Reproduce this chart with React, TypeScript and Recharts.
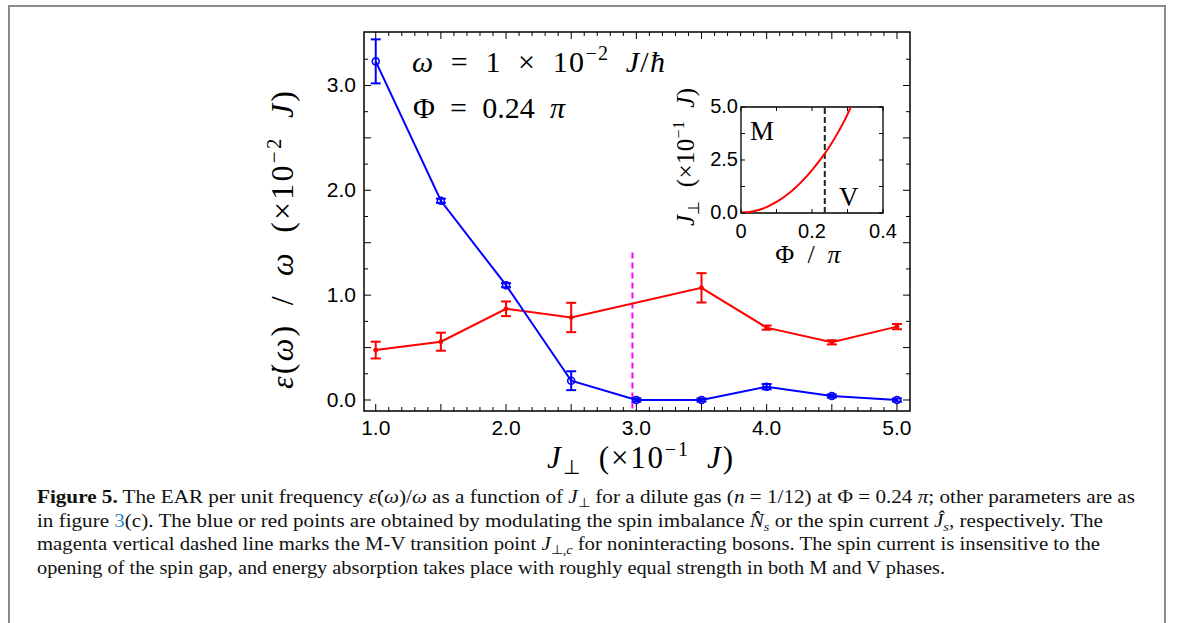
import React from 'react';
import {
  ComposedChart,
  LineChart,
  Line,
  XAxis,
  YAxis,
  ErrorBar,
  ReferenceLine,
  ReferenceArea,
} from 'recharts';

// J_perp values (x 10^-1 J) where the absorption rate was sampled
const imbalanceJ = [1.0, 1.5, 2.0, 2.5, 3.0, 3.5, 4.0, 4.5, 5.0];
const imbalanceRate = [3.23, 1.9, 1.095, 0.184, 0.0, 0.0, 0.127, 0.038, 0.0];
const imbalanceErr = [0.21, 0.02, 0.02, 0.09, 0.015, 0.015, 0.025, 0.015, 0.015];

const currentJ = [1.0, 1.5, 2.0, 2.5, 3.5, 4.0, 4.5, 5.0];
const currentRate = [0.476, 0.556, 0.87, 0.787, 1.07, 0.69, 0.55, 0.7];
const currentErr = [0.08, 0.086, 0.07, 0.14, 0.14, 0.02, 0.02, 0.025];

// M-V transition for noninteracting bosons
const transitionJ = 2.97;
const transitionSpan = [-0.08, 1.41];

// inset: phase boundary J_perp,c vs flux
const boundaryFlux = [0, 0.025, 0.05, 0.075, 0.1, 0.125, 0.15, 0.175, 0.2, 0.225, 0.25, 0.275, 0.3, 0.309];
const boundaryJ = [0.02, 0.05, 0.14, 0.3, 0.52, 0.8, 1.14, 1.55, 2.02, 2.55, 3.15, 3.85, 4.65, 5.0];
const boundaryCut = 0.236;

const mainXLabelValues = [1, 2, 3, 4, 5];
const mainXLabels = ['1.0', '2.0', '3.0', '4.0', '5.0'];
const mainYLabelValues = [0, 1, 2, 3];
const mainYLabels = ['0.0', '1.0', '2.0', '3.0'];
const insetXLabelValues = [0, 0.2, 0.4];
const insetXLabels = ['0', '0.2', '0.4'];
const insetYLabelValues = [0, 2.5, 5];
const insetYLabels = ['0.0', '2.5', '5.0'];

const imbalanceData = imbalanceJ.map((x, i) => ({ x, y: imbalanceRate[i], err: imbalanceErr[i] }));
const currentData = currentJ.map((x, i) => ({ x, y: currentRate[i], err: currentErr[i] }));
const boundaryData = boundaryFlux.map((x, i) => ({ x, y: boundaryJ[i] }));

const steps = (from: number, to: number, step: number) => {
  const n = Math.round((to - from) / step);
  return Array.from({ length: n + 1 }, (_, i) => Math.round((from + i * step) * 1000) / 1000);
};

const W = 1182;
const H = 623;
const PLOT = { left: 364, right: 910, top: 32, bottom: 411 };
const INSET = { left: 741, right: 883, top: 107, bottom: 213 };
const AXIS_H = 30;
const AXIS_W = 40;

const tickFont = '"Liberation Sans", Arial, sans-serif';
const mathFont = '"Liberation Serif", "Times New Roman", serif';
const EN = '\u2002';

const labelFor = (v: number, values: number[], labels: string[]) => {
  const i = values.findIndex((t) => Math.abs(t - v) < 1e-6);
  return i >= 0 ? labels[i] : null;
};

const MainXTick = (props: any) => {
  const { x, payload } = props;
  const v = payload.value;
  const len = Math.abs(v * 2 - Math.round(v * 2)) < 1e-6 ? 7 : 4;
  const label = labelFor(v, mainXLabelValues, mainXLabels);
  return (
    <g>
      <line x1={x} x2={x} y1={PLOT.bottom} y2={PLOT.bottom - len} stroke="#000" strokeWidth={1} />
      <line x1={x} x2={x} y1={PLOT.top} y2={PLOT.top + len} stroke="#000" strokeWidth={1} />
      {label && (
        <text x={x} y={PLOT.bottom + 24} textAnchor="middle" fontFamily={tickFont} fontSize={21} fill="#000">
          {label}
        </text>
      )}
    </g>
  );
};

const MainYTick = (props: any) => {
  const { y, payload } = props;
  const v = payload.value;
  const len = Math.abs(v * 2 - Math.round(v * 2)) < 1e-6 ? 7 : 4;
  const label = labelFor(v, mainYLabelValues, mainYLabels);
  return (
    <g>
      <line x1={PLOT.left} x2={PLOT.left + len} y1={y} y2={y} stroke="#000" strokeWidth={1} />
      <line x1={PLOT.right} x2={PLOT.right - len} y1={y} y2={y} stroke="#000" strokeWidth={1} />
      {label && (
        <text x={PLOT.left - 8} y={y + 7} textAnchor="end" fontFamily={tickFont} fontSize={21} fill="#000">
          {label}
        </text>
      )}
    </g>
  );
};

const InsetXTick = (props: any) => {
  const { x, payload } = props;
  const label = labelFor(payload.value, insetXLabelValues, insetXLabels);
  return (
    <g>
      <line x1={x} x2={x} y1={INSET.bottom} y2={INSET.bottom - 4} stroke="#000" strokeWidth={1} />
      <line x1={x} x2={x} y1={INSET.top} y2={INSET.top + 4} stroke="#000" strokeWidth={1} />
      {label && (
        <text x={x} y={INSET.bottom + 25} textAnchor="middle" fontFamily={tickFont} fontSize={20} fill="#000">
          {label}
        </text>
      )}
    </g>
  );
};

const InsetYTick = (props: any) => {
  const { y, payload } = props;
  const label = labelFor(payload.value, insetYLabelValues, insetYLabels);
  return (
    <g>
      <line x1={INSET.left} x2={INSET.left + 4} y1={y} y2={y} stroke="#000" strokeWidth={1} />
      <line x1={INSET.right} x2={INSET.right - 4} y1={y} y2={y} stroke="#000" strokeWidth={1} />
      {label && (
        <text x={INSET.left - 3} y={y + 6} textAnchor="end" fontFamily={tickFont} fontSize={20} fill="#000">
          {label}
        </text>
      )}
    </g>
  );
};

const I = ({ children }: { children: React.ReactNode }) => <tspan fontStyle="italic">{children}</tspan>;

const Caption = () => {
  const common = {
    fontFamily: mathFont,
    fontSize: 19,
    fill: '#111',
    lengthAdjust: 'spacingAndGlyphs' as const,
  };
  return (
    <g>
      <text x={37} y={503} textLength={1098} {...common}>
        <tspan fontWeight="bold">Figure 5.</tspan> The EAR per unit frequency <I>ε̇</I>(<I>ω</I>)/<I>ω</I> as a function of{' '}
        <I>J</I>
        <tspan dy={4} fontSize={13}>⊥</tspan>
        <tspan dy={-4}> for a dilute gas (</tspan>
        <I>n</I> = 1/12) at Φ = 0.24 <I>π</I>; other parameters are as
      </text>
      <text x={37} y={527} textLength={1066} {...common}>
        in figure <tspan fill="#2b8ccf">3</tspan>(c). The blue or red points are obtained by modulating the spin imbalance <I>N̂</I>
        <tspan dy={4} fontSize={13} fontStyle="italic">s</tspan>
        <tspan dy={-4}> or the spin current </tspan>
        <I>Ĵ</I>
        <tspan dy={4} fontSize={13} fontStyle="italic">s</tspan>
        <tspan dy={-4}>, respectively. The</tspan>
      </text>
      <text x={37} y={550} textLength={1063} {...common}>
        magenta vertical dashed line marks the M-V transition point <I>J</I>
        <tspan dy={4} fontSize={13}>⊥,</tspan>
        <tspan fontSize={13} fontStyle="italic">c</tspan>
        <tspan dy={-4}> for noninteracting bosons. The spin current is insensitive to the</tspan>
      </text>
      <text x={37} y={574} textLength={908} {...common}>
        opening of the spin gap, and energy absorption takes place with roughly equal strength in both M and V phases.
      </text>
    </g>
  );
};

const Annotations = () => (
  <svg width={W} height={H} style={{ position: 'absolute', left: 0, top: 0 }}>
    {/* figure frame */}
    <path d={`M9 ${H} V6 H1165 V${H}`} fill="none" stroke="#8a8a8a" strokeWidth={2} />

    {/* main axis titles */}
    <text
      transform="translate(293,240) rotate(-90)"
      textAnchor="middle"
      fontFamily={mathFont}
      fontSize={32}
      fill="#000"
      textLength={298}
      lengthAdjust="spacing"
    >
      <I>ε̇</I>(<I>ω</I>){EN}/{EN}<I>ω</I>{EN}(×10
      <tspan dy={-12} fontSize={21}>−2</tspan>
      <tspan dy={12}>{EN}</tspan>
      <I>J</I>)
    </text>
    <text x={640} y={468} textAnchor="middle" fontFamily={mathFont} fontSize={31} fill="#000" textLength={186} lengthAdjust="spacing">
      <I>J</I>
      <tspan dy={6} fontSize={20}>⊥</tspan>
      <tspan dy={-6}>{EN}(×10</tspan>
      <tspan dy={-12} fontSize={20}>−1</tspan>
      <tspan dy={12}>{EN}</tspan>
      <I>J</I>)
    </text>

    {/* parameters */}
    <text x={412} y={72} fontFamily={mathFont} fontSize={30} fill="#000" textLength={253} lengthAdjust="spacing">
      <I>ω</I>{EN}={EN}1{EN}×{EN}10
      <tspan dy={-12} fontSize={20}>−2</tspan>
      <tspan dy={12}>{EN}</tspan>
      <I>J</I>/<I>ħ</I>
    </text>
    <text x={413} y={118} fontFamily={mathFont} fontSize={30} fill="#000" textLength={152} lengthAdjust="spacing">
      Φ{EN}={EN}0.24{EN}<I>π</I>
    </text>

    {/* inset titles */}
    <text
      transform="translate(694,157) rotate(-90)"
      textAnchor="middle"
      fontFamily={mathFont}
      fontSize={25}
      fill="#000"
      textLength={138}
      lengthAdjust="spacing"
    >
      <I>J</I>
      <tspan dy={5} fontSize={16}>⊥</tspan>
      <tspan dy={-5}>{EN}(×10</tspan>
      <tspan dy={-10} fontSize={16}>−1</tspan>
      <tspan dy={10}>{EN}</tspan>
      <I>J</I>)
    </text>
    <text x={808} y={263} textAnchor="middle" fontFamily={mathFont} fontSize={26} fill="#000">
      Φ{EN}/{EN}<I>π</I>
    </text>
    <text x={750} y={140} fontFamily={mathFont} fontSize={27} fill="#000">M</text>
    <text x={839} y={206} fontFamily={mathFont} fontSize={27} fill="#000">V</text>

    <Caption />
  </svg>
);

const MainChart = () => (
  <ComposedChart
    width={W}
    height={H}
    margin={{ top: PLOT.top, left: PLOT.left - AXIS_W, right: W - PLOT.right, bottom: H - PLOT.bottom - AXIS_H }}
    style={{ position: 'absolute', left: 0, top: 0 }}
  >
    <XAxis
      type="number"
      dataKey="x"
      domain={[0.91, 5.1]}
      allowDataOverflow
      ticks={steps(1, 5, 0.1)}
      interval={0}
      height={AXIS_H}
      axisLine={false}
      tickLine={false}
      tick={(p: any) => <MainXTick {...p} />}
    />
    <YAxis
      type="number"
      domain={[-0.105, 3.51]}
      allowDataOverflow
      ticks={steps(0, 3.25, 0.25)}
      interval={0}
      width={AXIS_W}
      axisLine={false}
      tickLine={false}
      tick={(p: any) => <MainYTick {...p} />}
    />
    <ReferenceArea x1={0.91} x2={5.1} y1={-0.105} y2={3.51} fill="none" stroke="#000" strokeWidth={1.5} />
    <ReferenceLine
      segment={[
        { x: transitionJ, y: transitionSpan[0] },
        { x: transitionJ, y: transitionSpan[1] },
      ]}
      stroke="#ff00ff"
      strokeWidth={2}
      strokeDasharray="6 4"
    />
    <Line
      data={currentData}
      dataKey="y"
      stroke="#ff0000"
      strokeWidth={2}
      dot={{ r: 2, fill: '#ff0000', stroke: '#ff0000', strokeWidth: 1 }}
      isAnimationActive={false}
    >
      <ErrorBar dataKey="err" direction="y" width={5} stroke="#ff0000" strokeWidth={2} />
    </Line>
    <Line
      data={imbalanceData}
      dataKey="y"
      stroke="#0000ff"
      strokeWidth={2}
      dot={{ r: 3.5, fill: 'none', stroke: '#0000ff', strokeWidth: 1.6 }}
      isAnimationActive={false}
    >
      <ErrorBar dataKey="err" direction="y" width={5} stroke="#0000ff" strokeWidth={2} />
    </Line>
  </ComposedChart>
);

const InsetChart = () => (
  <LineChart
    width={W}
    height={H}
    data={boundaryData}
    margin={{ top: INSET.top, left: INSET.left - AXIS_W, right: W - INSET.right, bottom: H - INSET.bottom - AXIS_H }}
    style={{ position: 'absolute', left: 0, top: 0 }}
  >
    <XAxis
      type="number"
      dataKey="x"
      domain={[0, 0.4]}
      allowDataOverflow
      ticks={steps(0, 0.4, 0.1)}
      interval={0}
      height={AXIS_H}
      axisLine={false}
      tickLine={false}
      tick={(p: any) => <InsetXTick {...p} />}
    />
    <YAxis
      type="number"
      domain={[0, 5]}
      allowDataOverflow
      ticks={steps(0, 5, 1.25)}
      interval={0}
      width={AXIS_W}
      axisLine={false}
      tickLine={false}
      tick={(p: any) => <InsetYTick {...p} />}
    />
    <ReferenceArea x1={0} x2={0.4} y1={0} y2={5} fill="none" stroke="#000" strokeWidth={1.3} />
    <ReferenceLine x={boundaryCut} stroke="#222" strokeWidth={2} strokeDasharray="6 3" />
    <Line type="monotone" dataKey="y" stroke="#ff0000" strokeWidth={2} dot={false} isAnimationActive={false} />
  </LineChart>
);

export default function App() {
  return (
    <div style={{ position: 'absolute', left: 0, top: 0, width: W, height: H, background: '#fff', overflow: 'hidden' }}>
      <MainChart />
      <InsetChart />
      <Annotations />
    </div>
  );
}
